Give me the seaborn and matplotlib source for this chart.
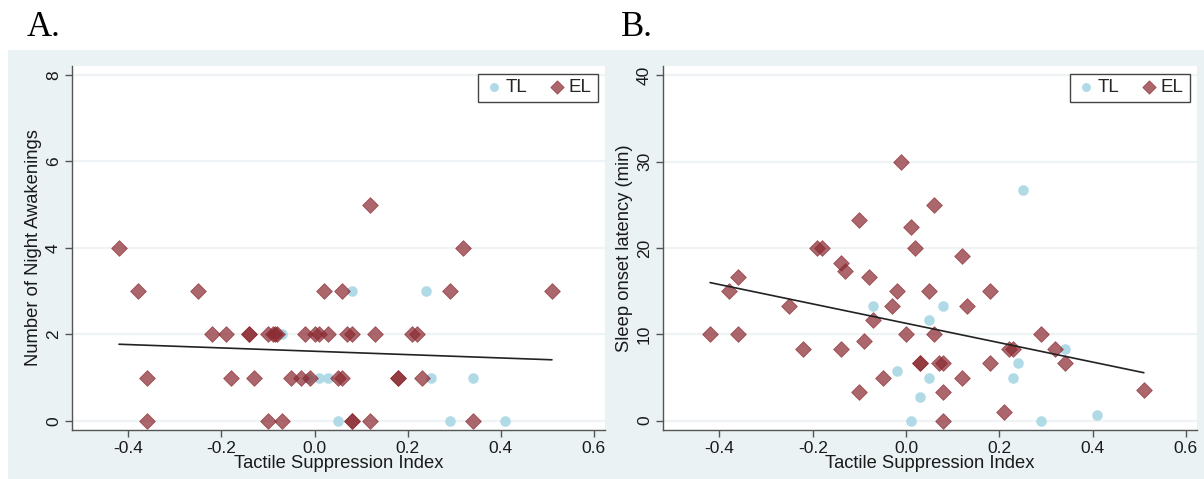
import numpy as np
import pandas as pd
import matplotlib
matplotlib.use("Agg")
import matplotlib.pyplot as plt
import seaborn as sns
from matplotlib.patches import Rectangle

# ---------------- data ----------------
# Panel A: Number of Night Awakenings
tl_x_a = [0.08, 0.24, -0.07, -0.015, 0.01, 0.03, 0.25, 0.34, 0.05, 0.29, 0.41]
tl_y_a = [3, 3, 2, 1, 1, 1, 1, 1, 0, 0, 0]
el_x_a = [-0.42, -0.38, -0.25, 0.02, 0.06, 0.29, 0.51, 0.12, 0.32,
          -0.22, -0.19, -0.14, -0.14, -0.10, -0.09, -0.085, -0.08, -0.02, 0.00,
          0.01, 0.03, 0.07, 0.08, 0.13, 0.21, 0.22,
          -0.36, -0.18, -0.13, -0.05, -0.03, -0.01, 0.05, 0.06, 0.18, 0.18, 0.23,
          -0.36, -0.10, -0.07, 0.08, 0.08, 0.12, 0.34]
el_y_a = [4, 3, 3, 3, 3, 3, 3, 5, 4,
          2, 2, 2, 2, 2, 2, 2, 2, 2, 2,
          2, 2, 2, 2, 2, 2, 2,
          1, 1, 1, 1, 1, 1, 1, 1, 1, 1, 1,
          0, 0, 0, 0, 0, 0, 0]
fit_x_a = [-0.42, 0.51]
fit_y_a = [1.77, 1.41]

# Panel B: Sleep onset latency (min)
tl_x_b = [-0.07, 0.08, 0.05, -0.02, 0.05, 0.03, 0.01, 0.25, 0.34, 0.24, 0.23, 0.29, 0.41]
tl_y_b = [13.3, 13.3, 11.7, 5.8, 5.0, 2.7, 0.0, 26.7, 8.3, 6.7, 5.0, 0.0, 0.7]
el_x_b = [-0.01, 0.06, -0.10, 0.01, -0.19, -0.18, 0.02, -0.14, -0.13, -0.36,
          -0.08, -0.38, -0.02, 0.05, -0.25, -0.03, -0.07, -0.42, -0.36, 0.00,
          0.06, -0.22, -0.14, -0.09, 0.03, 0.03, 0.07, 0.08, -0.05, -0.10,
          0.08, 0.08, 0.12, 0.18, 0.13, 0.29, 0.22, 0.23, 0.32, 0.18,
          0.34, 0.12, 0.51, 0.21]
el_y_b = [30.0, 25.0, 23.3, 22.5, 20.0, 20.0, 20.0, 18.3, 17.3, 16.7,
          16.7, 15.0, 15.0, 15.0, 13.3, 13.3, 11.7, 10.0, 10.0, 10.0,
          10.0, 8.3, 8.3, 9.2, 6.7, 6.7, 6.7, 6.7, 5.0, 3.3,
          3.3, 0.0, 19.1, 15.0, 13.3, 10.0, 8.3, 8.3, 8.3, 6.7,
          6.7, 5.0, 3.6, 1.0]
fit_x_b = [-0.42, 0.51]
fit_y_b = [16.0, 5.56]

x_ticks = [-0.4, -0.2, 0.0, 0.2, 0.4, 0.6]
x_tick_labels = ["-0.4", "-0.2", "0.0", "0.2", "0.4", "0.6"]
y_ticks_a = [0, 2, 4, 6, 8]
y_ticks_b = [0, 10, 20, 30, 40]
group_names = ["TL", "EL"]

# ---------------- style ----------------
sns.set_theme(style="white")
plt.rcParams["font.family"] = ["Liberation Sans", "DejaVu Sans"]

BG = "#EAF2F4"
GRID = "#EEF3F5"
TL_COLOR = "#ADD8E6"
EL_COLOR = "#8B2C33"
AXC = "#555555"
TXT = "#1a1a1a"

W, H = 1204, 479
fig = plt.figure(figsize=(W / 100, H / 100), dpi=100)
fig.patch.set_facecolor("white")

bg_ax = fig.add_axes([8 / W, 0, 1 - 8 / W, 1 - 50 / H], zorder=0)
bg_ax.set_facecolor(BG)
bg_ax.set_axis_off()
bg_ax.add_patch(Rectangle((0, 0), 1, 1, transform=bg_ax.transAxes,
                          facecolor=BG, edgecolor="none"))


def make_axes(left_px, right_px):
    top_px, bot_px = 66, 430
    ax = fig.add_axes([left_px / W, 1 - bot_px / H,
                       (right_px - left_px) / W, (bot_px - top_px) / H])
    ax.set_zorder(2)
    return ax


def draw_panel(ax, tlx, tly, elx, ely, fx, fy, yticks, ylim, ylabel):
    ax.set_facecolor("white")
    df_tl = pd.DataFrame({"x": tlx, "y": tly})
    df_el = pd.DataFrame({"x": elx, "y": ely})
    df_fit = pd.DataFrame({"x": fx, "y": fy})
    sns.scatterplot(data=df_tl, x="x", y="y", ax=ax, color=TL_COLOR, marker="o",
                    s=58, linewidth=0, alpha=0.95, label=group_names[0], zorder=3)
    sns.scatterplot(data=df_el, x="x", y="y", ax=ax, color=EL_COLOR, marker="D",
                    s=64, linewidth=0.6, edgecolor=EL_COLOR, alpha=0.72,
                    label=group_names[1], zorder=3)
    sns.lineplot(data=df_fit, x="x", y="y", ax=ax, color="#222222", linewidth=1.2,
                 zorder=4, legend=False)
    ax.set_xlim(-0.521, 0.624)
    ax.set_ylim(*ylim)
    ax.set_xticks(x_ticks)
    ax.set_xticklabels(x_tick_labels)
    ax.set_yticks(yticks)
    ax.set_yticklabels([str(t) for t in yticks], rotation=90, va="center")
    ax.yaxis.grid(True, color=GRID, linewidth=1.6, zorder=0)
    ax.xaxis.grid(False)
    ax.set_axisbelow(True)
    for s in ["top", "right"]:
        ax.spines[s].set_visible(False)
    for s in ["left", "bottom"]:
        ax.spines[s].set_color(AXC)
        ax.spines[s].set_linewidth(1.0)
    ax.tick_params(axis="both", direction="out", length=5, width=1.0, color=AXC,
                   labelsize=12.5, labelcolor=TXT, pad=3,
                   left=True, bottom=True)
    ax.set_xlabel("Tactile Suppression Index", fontsize=13.2, color=TXT, labelpad=-1)
    ax.set_ylabel(ylabel, fontsize=13.2, color=TXT, labelpad=3)
    leg = ax.legend(loc="upper right", ncol=2, frameon=True, fancybox=False,
                    fontsize=13.5, borderaxespad=0.4, handletextpad=0.1,
                    columnspacing=1.0, handlelength=1.1, borderpad=0.3,
                    markerscale=0.85)
    leg.get_frame().set_edgecolor("#444444")
    leg.get_frame().set_linewidth(1.0)
    leg.get_frame().set_alpha(1)


ax_a = make_axes(72, 605)
draw_panel(ax_a, tl_x_a, tl_y_a, el_x_a, el_y_a, fit_x_a, fit_y_a,
           y_ticks_a, (-0.215, 8.21), "Number of Night Awakenings")

ax_b = make_axes(663, 1197)
draw_panel(ax_b, tl_x_b, tl_y_b, el_x_b, el_y_b, fit_x_b, fit_y_b,
           y_ticks_b, (-1.08, 41.1), "Sleep onset latency (min)")

fig.text(27 / W, 1 - 36 / H, "A.", fontsize=25, family=["Liberation Serif", "DejaVu Serif"],
         ha="left", va="baseline", color="black")
fig.text(621 / W, 1 - 36 / H, "B.", fontsize=25, family=["Liberation Serif", "DejaVu Serif"],
         ha="left", va="baseline", color="black")

fig.savefig("out.png", dpi=100, facecolor="white")
